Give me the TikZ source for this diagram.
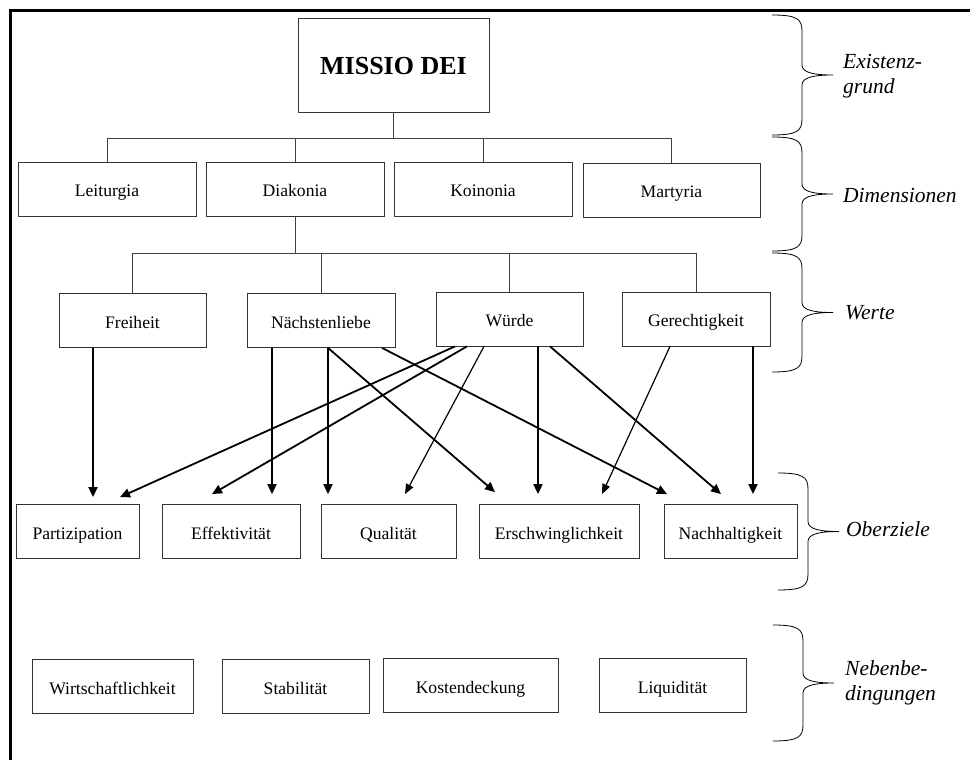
\documentclass[tikz,border=0pt]{standalone}
\usepackage{fontspec}
\setmainfont{Liberation Serif}
\usetikzlibrary{arrows.meta}

\tikzset{
  kasten/.style={draw=black!80, line width=0.8pt, inner sep=0pt, minimum height=54pt,
    text height=15pt, text depth=0pt, font=\fontsize{17.6}{20}\selectfont},
  ast/.style={draw=black!75, line width=0.8pt},
  pfeil/.style={line width=1.8pt, -{Triangle[length=10pt,width=9pt]}},
  duennpfeil/.style={line width=1.2pt, -{Triangle[length=10pt,width=8pt]}},
  klammerlinie/.style={line width=0.8pt},
  stufe/.style={font=\fontsize{21.5}{25}\selectfont\itshape, align=left, anchor=west, inner sep=0pt},
}

% right brace: x of the ends, top, bottom
\newcommand\klammer[3]{%
  \draw[klammerlinie] (#1,#2) .. controls ({#1+25},#2) and ({#1+30},{#2+4}) .. ({#1+30},{#2+16})
    -- ({#1+30},{(#2+#3)/2-10}) .. controls ({#1+30},{(#2+#3)/2-2}) and ({#1+43},{(#2+#3)/2}) .. ({#1+61},{(#2+#3)/2})
    .. controls ({#1+43},{(#2+#3)/2}) and ({#1+30},{(#2+#3)/2+2}) .. ({#1+30},{(#2+#3)/2+10})
    -- ({#1+30},{#3-16}) .. controls ({#1+30},{#3-4}) and ({#1+25},#3) .. (#1,#3);}

\begin{document}
\begin{tikzpicture}[x=1pt, y=-1pt]
  \useasboundingbox (0,0) rectangle (970,760);
  \draw[line width=3pt] (10.5,760) -- (10.5,10.5) -- (970,10.5);

  % Existenzgrund
  \node[kasten, minimum width=191pt, minimum height=94pt, text height=19pt,
    font=\fontsize{26}{30}\selectfont\bfseries] (missio) at (393.5,65) {MISSIO DEI};

  % Dimensionen
  \node[kasten, minimum width=178pt] (leit) at (107,189) {Leiturgia};
  \node[kasten, minimum width=178pt] (diak) at (295,189) {Diakonia};
  \node[kasten, minimum width=178pt] (koin) at (483,189) {Koinonia};
  \node[kasten, minimum width=177pt] (mart) at (671.5,190) {Martyria};

  % Werte
  \node[kasten, minimum width=147pt] (frei) at (132.5,320.5) {Freiheit};
  \node[kasten, minimum width=148pt] (naech) at (321,320.5) {Nächstenliebe};
  \node[kasten, minimum width=147pt] (wuerde) at (509.5,319) {Würde};
  \node[kasten, minimum width=148pt] (ger) at (696,319) {Gerechtigkeit};

  % Oberziele
  \node[kasten, minimum width=123pt] (part) at (77.5,531.5) {Partizipation};
  \node[kasten, minimum width=138pt] (eff) at (231,531.5) {Effektivität};
  \node[kasten, minimum width=135pt] (qual) at (388.5,531.5) {Qualität};
  \node[kasten, minimum width=160pt] (ersch) at (559,531.5) {Erschwinglichkeit};
  \node[kasten, minimum width=133pt] (nach) at (730.5,531.5) {Nachhaltigkeit};

  % Nebenbedingungen
  \node[kasten, minimum width=161pt] (wirt) at (112.5,686.5) {Wirtschaftlichkeit};
  \node[kasten, minimum width=147pt] (stab) at (295.5,686.5) {Stabilität};
  \node[kasten, minimum width=175pt] (kost) at (470.5,685.5) {Kostendeckung};
  \node[kasten, minimum width=147pt] (liqu) at (672.5,685.5) {Liquidität};

  % Baum
  \foreach \k in {leit,diak,koin,mart}
    \draw[ast] (missio.south) -- ++(0,26) -| (\k.north);
  \foreach \k in {frei,naech,wuerde,ger}
    \draw[ast] (diak.south) -- ++(0,37) -| (\k.north);

  % Pfeile
  \draw[pfeil] ([xshift=-39.5pt]frei.south) -- ([xshift=15.5pt,yshift=7pt]part.north);
  \draw[pfeil] ([xshift=-54.5pt]wuerde.south) -- ([xshift=42.5pt,yshift=7pt]part.north);
  \draw[pfeil] ([xshift=-42.5pt]wuerde.south) -- ([xshift=-19pt,yshift=10pt]eff.north);
  \draw[pfeil] ([xshift=-49pt]naech.south) -- ([xshift=41pt,yshift=10pt]eff.north);
  \draw[pfeil] ([xshift=7pt]naech.south) -- ([xshift=-60.5pt,yshift=10pt]qual.north);
  \draw[pfeil] ([xshift=7pt]naech.south) -- ([xshift=-64pt,yshift=12pt]ersch.north);
  \draw[duennpfeil] ([xshift=-25.5pt]wuerde.south) -- ([xshift=16.5pt,yshift=10pt]qual.north);
  \draw[pfeil] ([xshift=61pt]naech.south) -- ([xshift=-63.5pt,yshift=10pt]nach.north);
  \draw[pfeil] ([xshift=28.5pt]wuerde.south) -- ([xshift=-21pt,yshift=10pt]ersch.north);
  \draw[pfeil] ([xshift=40.5pt]wuerde.south) -- ([xshift=-9.5pt,yshift=10pt]nach.north);
  \draw[duennpfeil] ([xshift=-26pt]ger.south) -- ([xshift=43pt,yshift=10pt]ersch.north);
  \draw[pfeil] ([xshift=57pt]ger.south) -- ([xshift=22.5pt,yshift=10pt]nach.north);

  % Klammern
  \klammer{772}{15}{135}
  \klammer{772}{137}{251}
  \klammer{772}{253}{372}
  \klammer{778}{473}{590}
  \klammer{773}{625}{741}

  \node[stufe] (existenz) at (843,76) {Existenz-\\grund};
  \node[stufe] (dimension) at (843,195) {Dimensionen};
  \node[stufe] (werte) at (845,313) {Werte};
  \node[stufe] (oberziele) at (846,529) {Oberziele};
  \node[stufe] (neben) at (845,683) {Nebenbe-\\dingungen};
\end{tikzpicture}
\end{document}
